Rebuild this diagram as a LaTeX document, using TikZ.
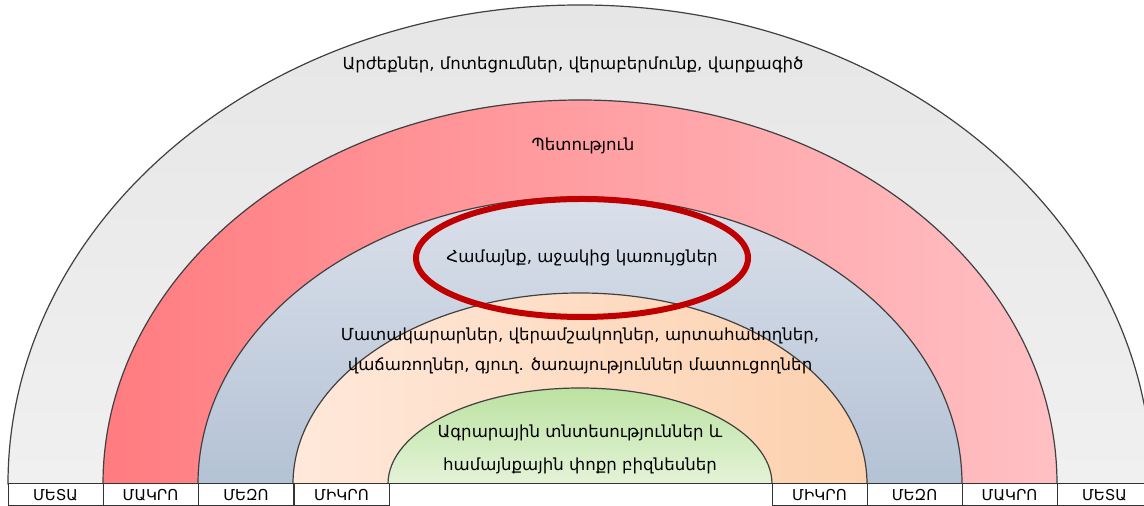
\documentclass[tikz,border=0pt]{standalone}
\usepackage{fontspec}
\setmainfont{DejaVu Sans}
\definecolor{grayA}{HTML}{E6E6E6}
\definecolor{grayB}{HTML}{F0F0F0}
\definecolor{redA}{HTML}{FF7C80}
\definecolor{redB}{HTML}{FFC0C4}
\definecolor{blueA}{HTML}{DAE0EA}
\definecolor{blueB}{HTML}{B4C2D5}
\definecolor{orangeA}{HTML}{FFE8DA}
\definecolor{orangeB}{HTML}{FCD1AE}
\definecolor{greenA}{HTML}{BBE2A0}
\definecolor{greenB}{HTML}{E4F3D8}
\definecolor{ringred}{HTML}{C00000}
\tikzset{
  band/.style={draw=black!75,line width=0.6pt},
  level/.style={draw=black!80,line width=0.5pt,fill=white,minimum width=47.5pt,minimum height=11pt,inner sep=0pt,font=\fontsize{7.5}{9}\selectfont},
  label/.style={font=\fontsize{8.3}{15}\selectfont,align=center,inner sep=1pt}
}
\begin{document}
\begin{tikzpicture}[x=0.5pt,y=0.5pt]
  \useasboundingbox (0,0) rectangle (1144,506);
  \clip (0,0) rectangle (1144,506);
  \def\xc{580} % centre of the arches
  \def\yb{22}
  % arches, from outside in
  \shadedraw[band,top color=grayA,bottom color=grayB] (\xc-572,\yb) arc[start angle=180,end angle=0,x radius=572,y radius=479] -- cycle;
  \shadedraw[band,left color=redA,right color=redB] (\xc-477,\yb) arc[start angle=180,end angle=0,x radius=477,y radius=384] -- cycle;
  \shadedraw[band,top color=blueA,bottom color=blueB] (\xc-382,\yb) arc[start angle=180,end angle=0,x radius=382,y radius=287] -- cycle;
  \shadedraw[band,left color=orangeA,right color=orangeB] (\xc-287,\yb) arc[start angle=180,end angle=0,x radius=287,y radius=191] -- cycle;
  \shadedraw[band,top color=greenA,bottom color=greenB] (\xc-192,\yb) arc[start angle=180,end angle=0,x radius=192,y radius=96] -- cycle;
  % texts
  \node[label] (meta) at (573,441) {Արժեքներ, մոտեցումներ, վերաբերմունք, վարքագիծ};
  \node[label] (macro) at (583,360) {Պետություն};
  \node[label] (meso) at (582,248) {Համայնք, աջակից կառույցներ};
  \node[label] (supply) at (580,155) {Մատակարարներ, վերամշակողներ, արտահանողներ,\\վաճառողներ, գյուղ. ծառայություններ մատուցողներ};
  \node[label,font=\fontsize{8.3}{16.5}\selectfont] (farm) at (580,57) {Ագրարային տնտեսություններ և\\համայնքային փոքր բիզնեսներ};
  \draw[ringred,line width=3pt] (meso) ellipse[x radius=166,y radius=59];
  % bottom row
  \node[level] (lmeta) at (55.5,11) {ՄԵՏԱ};
  \node[level] (lmacro) at (150.5,11) {ՄԱԿՐՈ};
  \node[level] (lmeso) at (246,11) {ՄԵԶՈ};
  \node[level] (lmicro) at (341.5,11) {ՄԻԿՐՈ};
  \node[level] (rmicro) at (819.5,11) {ՄԻԿՐՈ};
  \node[level] (rmeso) at (914.5,11) {ՄԵԶՈ};
  \node[level] (rmacro) at (1009.5,11) {ՄԱԿՐՈ};
  \node[level] (rmeta) at (1104.5,11) {ՄԵՏԱ};
  \fill[white] (lmicro.north east) rectangle (rmicro.south west);
  \draw[black!80,line width=0.5pt] (lmicro.north east) -- (rmicro.north west);
\end{tikzpicture}
\end{document}
